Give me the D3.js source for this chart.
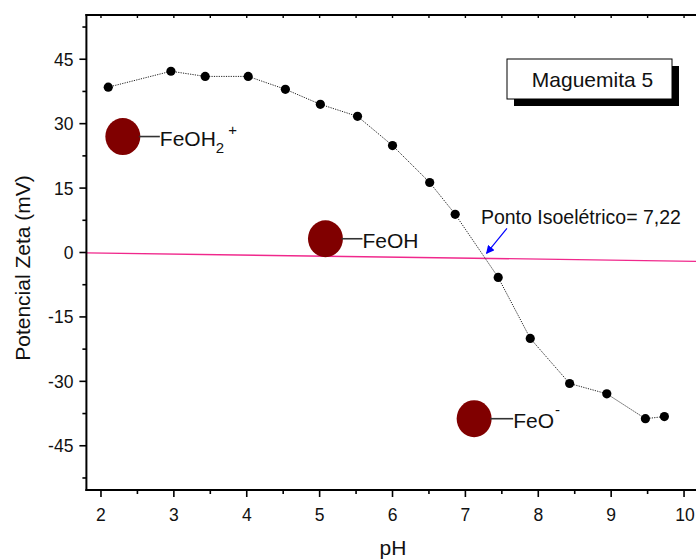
<!DOCTYPE html>
<html>
<head>
<meta charset="utf-8">
<script src="https://cdn.jsdelivr.net/npm/d3@7/dist/d3.min.js"></script>
<style>
  html, body { margin: 0; padding: 0; background: #fff; }
  svg { display: block; font-family: "Liberation Sans", Arial, Helvetica, sans-serif; }
</style>
</head>
<body>
<svg id="chart" width="696" height="559"></svg>
<script>
// Zeta potential of maghemite sample 5 as a function of pH
const phValues   = [2.10, 2.96, 3.43, 4.02, 4.53, 5.01, 5.52, 6.00, 6.51, 6.86, 7.45, 7.89, 8.43, 8.94, 9.47, 9.73];
const zetaValues = [38.5, 42.2, 41.0, 41.0, 38.0, 34.5, 31.7, 24.9, 16.3, 8.9, -5.8, -20.0, -30.5, -32.9, -38.7, -38.2];

// near-zero reference line (slightly sloped) and the isoelectric point
const baselinePh = [1.8, 10.4];
const baselineMv = [-0.1, -2.1];
const isoPoint = 7.22;
const isoLabel = "Ponto Isoelétrico= 7,22";

// surface species markers
const speciesPh    = [2.30, 5.08, 7.12];
const speciesMv    = [27.0, 3.2, -38.7];
const speciesName  = ["FeOH", "FeOH", "FeO"];
const speciesSub   = ["2", "", ""];
const speciesSup   = ["+", "", "-"];

const xTicks = [2, 3, 4, 5, 6, 7, 8, 9, 10];
const yTicks = [-45, -30, -15, 0, 15, 30, 45];

const title = "Maguemita 5";
const xLabel = "pH";
const yLabel = "Potencial Zeta (mV)";

(function draw() {
  const svg = d3.select("#chart");
  const W = 696;

  const x = d3.scaleLinear().domain([1.8, 10.4]).range([86.4, 713.2]);
  const y = d3.scaleLinear().domain([-55.3, 55.3]).range([490, 15]);

  const plotLeft = x(1.8), plotRight = W + 10, plotTop = y(55.3), plotBottom = y(-55.3);

  // reference line
  svg.append("line")
    .attr("x1", x(baselinePh[0])).attr("y1", y(baselineMv[0]))
    .attr("x2", x(baselinePh[1])).attr("y2", y(baselineMv[1]))
    .attr("stroke", "#f0288c").attr("stroke-width", 1.3);

  // data line (dotted) and points
  const line = d3.line().x((d, i) => x(phValues[i])).y(d => y(d));
  svg.append("path")
    .datum(zetaValues)
    .attr("d", line)
    .attr("fill", "none")
    .attr("stroke", "#222")
    .attr("stroke-width", 1)
    .attr("stroke-dasharray", "1.2,1.2");

  svg.append("g").selectAll("circle")
    .data(zetaValues)
    .join("circle")
    .attr("cx", (d, i) => x(phValues[i]))
    .attr("cy", d => y(d))
    .attr("r", 4.6)
    .attr("fill", "#000");

  // species markers with connector and label
  const sp = svg.append("g");
  speciesPh.forEach((p, i) => {
    const cx = x(p), cy = y(speciesMv[i]);
    sp.append("ellipse").attr("cx", cx).attr("cy", cy).attr("rx", 17.5).attr("ry", 18.5)
      .attr("fill", "#800000");
    const lx = cx + 37 + (i === 2 ? 2 : 0);
    sp.append("line").attr("x1", cx + 16).attr("x2", lx).attr("y1", cy).attr("y2", cy)
      .attr("stroke", "#333").attr("stroke-width", 1.6);
    const t = sp.append("text").attr("x", lx).attr("y", cy + 9)
      .attr("font-size", 21).attr("fill", "#111");
    t.append("tspan").text(speciesName[i]);
    if (speciesSub[i]) t.append("tspan").attr("dy", 7).attr("font-size", 15).text(speciesSub[i]);
    if (speciesSup[i]) t.append("tspan")
      .attr("dx", speciesSub[i] ? 4 : 1)
      .attr("dy", speciesSub[i] ? -18 : -13)
      .attr("font-size", 15).text(speciesSup[i]);
  });

  // isoelectric arrow and label
  svg.append("defs").append("marker")
    .attr("id", "arrow").attr("viewBox", "0 0 10 10")
    .attr("refX", 9).attr("refY", 5)
    .attr("markerWidth", 7).attr("markerHeight", 7)
    .attr("orient", "auto")
    .append("path").attr("d", "M0,0 L10,5 L0,10 z").attr("fill", "#0000ff");

  svg.append("line")
    .attr("x1", x(isoPoint + 0.35)).attr("y1", y(5.6))
    .attr("x2", x(isoPoint + 0.07)).attr("y2", y(-0.2))
    .attr("stroke", "#0000ff").attr("stroke-width", 1.2)
    .attr("marker-end", "url(#arrow)");

  svg.append("text")
    .attr("x", x(isoPoint) - 0.5).attr("y", 224)
    .attr("font-size", 19.5).attr("fill", "#111")
    .text(isoLabel);

  // axes frame
  const axis = svg.append("g").attr("stroke", "#000");
  axis.append("line").attr("x1", plotLeft).attr("x2", plotLeft).attr("y1", plotTop - 1).attr("y2", plotBottom + 1).attr("stroke-width", 2);
  axis.append("line").attr("x1", plotLeft - 1).attr("x2", plotRight).attr("y1", plotTop).attr("y2", plotTop).attr("stroke-width", 2);
  axis.append("line").attr("x1", plotLeft - 1).attr("x2", plotRight).attr("y1", plotBottom).attr("y2", plotBottom).attr("stroke-width", 2);

  // y ticks: majors every 15, minors in between
  const yMinor = d3.range(-52.5, 55, 7.5).filter(v => !yTicks.includes(v));
  axis.append("g").selectAll("line").data(yTicks).join("line")
    .attr("x1", plotLeft - 7).attr("x2", plotLeft).attr("y1", d => y(d)).attr("y2", d => y(d)).attr("stroke-width", 1.6);
  axis.append("g").selectAll("line").data(yMinor).join("line")
    .attr("x1", plotLeft - 4).attr("x2", plotLeft).attr("y1", d => y(d)).attr("y2", d => y(d)).attr("stroke-width", 1.6);

  // x ticks: majors every 1, minors every 0.5
  const xMinor = d3.range(2.5, 10.5, 1);
  axis.append("g").selectAll("line").data(xTicks).join("line")
    .attr("x1", d => x(d)).attr("x2", d => x(d)).attr("y1", plotBottom).attr("y2", plotBottom + 7).attr("stroke-width", 1.6);
  axis.append("g").selectAll("line").data(xMinor).join("line")
    .attr("x1", d => x(d)).attr("x2", d => x(d)).attr("y1", plotBottom).attr("y2", plotBottom + 4).attr("stroke-width", 1.6);
  // top axis small inward ticks
  axis.append("g").selectAll("line").data(xTicks.concat(xMinor)).join("line")
    .attr("x1", d => x(d)).attr("x2", d => x(d)).attr("y1", plotTop).attr("y2", plotTop + 3).attr("stroke-width", 1.4);

  // tick labels
  svg.append("g").selectAll("text").data(yTicks).join("text")
    .attr("x", plotLeft - 13).attr("y", d => y(d) + 6.5)
    .attr("text-anchor", "end").attr("font-size", 17.5).attr("fill", "#111")
    .text(d => d);
  svg.append("g").selectAll("text").data(xTicks).join("text")
    .attr("x", d => x(d) + (d === 10 ? 1 : 0)).attr("y", 521)
    .attr("text-anchor", "middle").attr("font-size", 17.5).attr("fill", "#111")
    .text(d => d);

  // axis titles
  svg.append("text").attr("x", 393).attr("y", 555)
    .attr("text-anchor", "middle").attr("font-size", 21).attr("fill", "#111").text(xLabel);
  svg.append("text").attr("transform", "translate(30,268) rotate(-90)")
    .attr("text-anchor", "middle").attr("font-size", 21).attr("fill", "#111").text(yLabel);

  // title box with drop shadow
  const bx = 507, by = 59, bw = 165, bh = 40;
  svg.append("rect").attr("x", bx + 7).attr("y", by + 7).attr("width", bw).attr("height", bh).attr("fill", "#000");
  svg.append("rect").attr("x", bx).attr("y", by).attr("width", bw).attr("height", bh)
    .attr("fill", "#fff").attr("stroke", "#000").attr("stroke-width", 1);
  svg.append("text").attr("x", bx + bw / 2 + 3).attr("y", by + 28)
    .attr("text-anchor", "middle").attr("font-size", 21).attr("fill", "#111").text(title);
})();
</script>
</body>
</html>
